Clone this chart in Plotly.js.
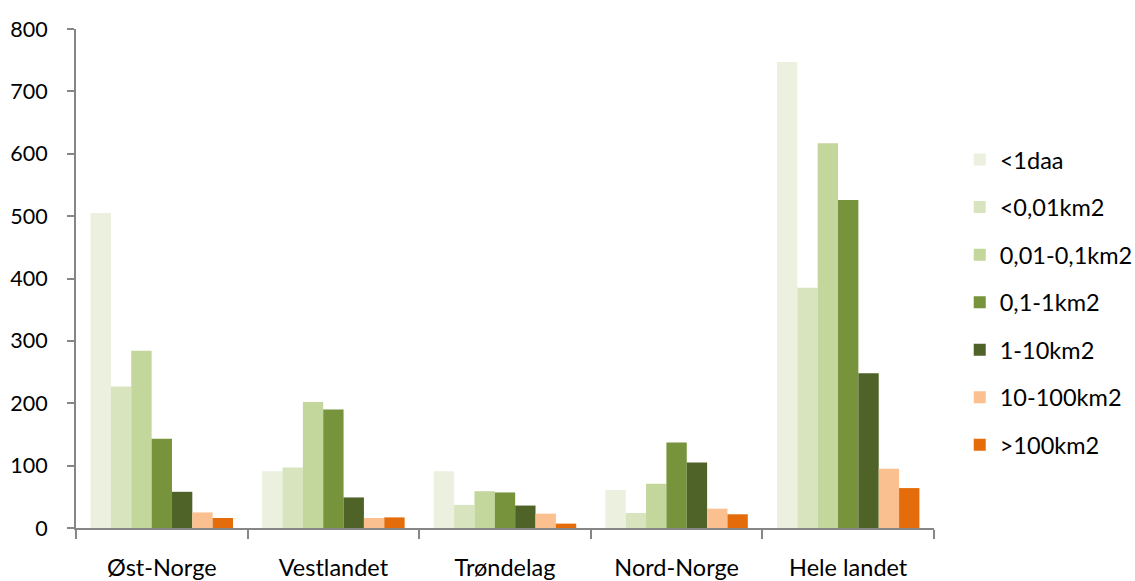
<!DOCTYPE html>
<html><head><meta charset="utf-8">
<script src="https://cdn.plot.ly/plotly-3.0.1.min.js"></script>
<style>html,body{margin:0;padding:0;background:#fff}#chart{width:1135px;height:581px}</style>
</head><body><div id="chart"></div>
<script>
const categories = ["Øst-Norge", "Vestlandet", "Trøndelag", "Nord-Norge", "Hele landet"];
const seriesNames = ["<1daa", "<0,01km2", "0,01-0,1km2", "0,1-1km2", "1-10km2", "10-100km2", ">100km2"];
const s_lt1daa   = [505, 91, 91, 61, 747];
const s_lt001    = [227, 97, 37, 24, 385];
const s_001_01   = [284, 202, 59, 71, 617];
const s_01_1     = [143, 190, 57, 137, 526];
const s_1_10     = [58, 49, 36, 105, 248];
const s_10_100   = [25, 16, 23, 31, 95];
const s_gt100    = [16, 17, 7, 22, 64];
const seriesValues = [s_lt1daa, s_lt001, s_001_01, s_01_1, s_1_10, s_10_100, s_gt100];
const colors = ["#EBF1DE", "#D7E4BD", "#C3D69B", "#77933C", "#4F6228", "#FAC090", "#E46C0A"];
const yTicks = [0, 100, 200, 300, 400, 500, 600, 700, 800];

const font = "Lato, 'Open Sans', sans-serif";
const traces = seriesNames.map((n, i) => ({
  type: "bar", name: n, x: categories, y: seriesValues[i],
  marker: {color: colors[i], line: {width: 0}},
  legendgroup: "g" + i, hoverinfo: "x+y+name"
}));

const layout = {
  width: 1135, height: 581,
  margin: {l: 76, r: 201, t: 29, b: 52.5, autoexpand: false},
  paper_bgcolor: "#fff", plot_bgcolor: "#fff",
  barmode: "group", bargap: 0.17, bargroupgap: 0,
  font: {family: font, size: 22, color: "#000"},
  xaxis: {
    type: "category", tickson: "boundaries", ticks: "outside", ticklen: 9, tickwidth: 2,
    tickcolor: "#868686", showline: true, linecolor: "#868686", linewidth: 2,
    showgrid: false, zeroline: false, ticklabelstandoff: 18,
    tickfont: {family: font, size: 23.5, color: "#000"}
  },
  yaxis: {
    range: [0, 800], tickvals: yTicks, ticktext: yTicks.map(String),
    ticks: "outside", ticklen: 7, tickwidth: 2, tickcolor: "#868686",
    showline: true, linecolor: "#868686", linewidth: 2,
    showgrid: false, zeroline: false, ticklabelstandoff: 15,
    tickfont: {family: font, size: 21.5, color: "#000"}
  },
  showlegend: true,
  legend: {
    x: 1.03, xanchor: "left", y: 0.782, yanchor: "top",
    traceorder: "grouped", tracegroupgap: 14,
    font: {family: font, size: 23.5, color: "#000"},
    itemwidth: 30, bgcolor: "rgba(0,0,0,0)"
  }
};
Plotly.newPlot("chart", traces, layout, {displayModeBar: false, staticPlot: true});
</script></body></html>
